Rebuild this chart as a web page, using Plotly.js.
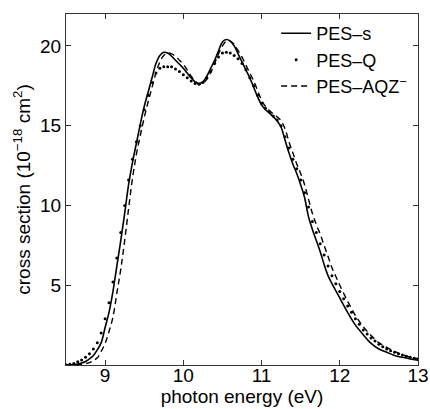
<!DOCTYPE html>
<html>
<head>
<meta charset="utf-8">
<script src="https://cdn.plot.ly/plotly-3.0.1.min.js"></script>
<style>html,body{margin:0;padding:0;background:#fff;} #chart{width:430px;height:409px;}</style>
</head>
<body>
<div id="chart"></div>
<script>
// PES-s (solid)
const sE = [8.5,8.6,8.7,8.75,8.8,8.85,8.9,8.95,9.0,9.05,9.1,9.15,9.2,9.25,9.3,9.35,9.4,9.45,9.5,9.55,9.6,9.65,9.7,9.75,9.8,9.85,9.9,9.95,10.0,10.05,10.1,10.15,10.2,10.25,10.3,10.35,10.4,10.45,10.5,10.55,10.6,10.65,10.7,10.75,10.8,10.85,10.9,10.95,11.0,11.05,11.1,11.15,11.2,11.25,11.3,11.35,11.4,11.45,11.5,11.55,11.6,11.65,11.7,11.75,11.8,11.85,11.9,11.95,12.0,12.1,12.2,12.3,12.4,12.5,12.6,12.7,12.8,12.9,13.0];
const sV = [0,0.02,0.12,0.22,0.38,0.6,0.95,1.4,2.35,3.3,4.6,6.2,7.8,9.5,11.3,12.7,13.9,15.1,16.2,17.1,18.0,18.9,19.4,19.6,19.55,19.35,19.1,18.85,18.6,18.3,18.0,17.75,17.65,17.75,18.1,18.6,19.1,19.7,20.25,20.4,20.3,20.0,19.5,19.0,18.5,18.0,17.4,16.8,16.3,16.0,15.8,15.55,15.3,14.9,14.1,13.3,12.6,12.0,11.3,10.5,9.3,8.5,7.8,7.1,6.3,5.6,5.1,4.65,4.2,3.3,2.5,1.9,1.35,1.0,0.8,0.6,0.48,0.38,0.3];

// PES-Q (dots)
const qE = [8.5,8.55,8.6,8.65,8.7,8.75,8.8,8.85,8.9,8.95,9.0,9.05,9.1,9.15,9.2,9.25,9.3,9.35,9.4,9.45,9.5,9.55,9.6,9.65,9.7,9.75,9.8,9.85,9.9,9.95,10.0,10.05,10.1,10.15,10.2,10.25,10.3,10.35,10.4,10.45,10.5,10.55,10.6,10.65,10.7,10.75,10.8,10.85,10.9,10.95,11.0,11.05,11.1,11.15,11.2,11.25,11.3,11.35,11.4,11.45,11.5,11.55,11.6,11.65,11.7,11.75,11.8,11.85,11.9,11.95,12.0,12.05,12.1,12.15,12.2,12.25,12.3,12.35,12.4,12.45,12.5,12.55,12.6,12.65,12.7,12.75,12.8,12.85,12.9,12.95,13.0];
const qV = [0.02,0.05,0.1,0.2,0.32,0.48,0.7,1.0,1.4,2.0,2.9,3.9,5.2,6.7,8.3,10.0,11.6,12.9,14.0,15.0,16.0,16.9,17.7,18.3,18.6,18.7,18.7,18.7,18.55,18.4,18.2,18.0,17.8,17.65,17.6,17.7,18.0,18.4,18.9,19.3,19.55,19.6,19.55,19.4,19.2,18.9,18.5,18.0,17.5,16.9,16.4,16.1,15.85,15.6,15.35,15.0,14.3,13.6,12.9,12.3,11.6,10.8,9.9,9.0,8.3,7.6,6.9,6.2,5.6,5.1,4.6,4.15,3.7,3.3,2.9,2.55,2.2,1.95,1.7,1.5,1.3,1.15,1.0,0.9,0.8,0.7,0.62,0.55,0.48,0.42,0.37];

// PES-AQZ- (dashed)
const aE = [8.5,8.6,8.7,8.8,8.85,8.9,8.95,9.0,9.05,9.1,9.15,9.2,9.25,9.3,9.35,9.4,9.45,9.5,9.55,9.6,9.65,9.7,9.75,9.8,9.85,9.9,9.95,10.0,10.05,10.1,10.15,10.2,10.25,10.3,10.35,10.4,10.45,10.5,10.55,10.6,10.65,10.7,10.75,10.8,10.85,10.9,10.95,11.0,11.05,11.1,11.15,11.2,11.25,11.3,11.35,11.4,11.45,11.5,11.55,11.6,11.65,11.7,11.75,11.8,11.85,11.9,11.95,12.0,12.1,12.2,12.3,12.4,12.5,12.6,12.7,12.8,12.9,13.0];
const aV = [0,0.01,0.05,0.15,0.28,0.45,0.85,1.35,2.1,3.0,4.5,6.0,7.8,9.8,11.7,13.2,14.4,15.5,16.5,17.4,18.3,19.0,19.4,19.55,19.5,19.35,19.1,18.85,18.5,18.1,17.8,17.6,17.65,17.9,18.35,18.9,19.5,20.0,20.3,20.3,20.1,19.7,19.3,18.8,18.3,17.8,17.2,16.6,16.2,15.95,15.75,15.55,15.3,14.8,14.0,13.3,12.6,12.0,11.3,10.4,9.5,8.8,8.2,7.5,6.8,6.1,5.55,5.0,4.0,3.1,2.4,1.85,1.4,1.1,0.85,0.65,0.5,0.4];

const xTicks = [9,10,11,12,13];
const yTicks = [5,10,15,20];

const fam = 'Liberation Sans, Arial, sans-serif';
const tickFont = {family: fam, color: '#000', size: 19};
const titleFont = {family: fam, color: '#000', size: 19};
const legendFont = {family: fam, color: '#000', size: 18};

const traces = [
  {x: sE, y: sV, name: 'PES–s', mode: 'lines', line: {color: '#000', width: 1.6, shape: 'spline'}},
  {x: qE, y: qV, name: 'PES–Q', mode: 'markers', marker: {color: '#000', size: 3}},
  {x: aE, y: aV, name: 'PES–AQZ<sup>−</sup>', mode: 'lines', line: {color: '#000', width: 1.4, dash: '6px,4px', shape: 'spline'}}
];

const axisCommon = {
  showgrid: false, zeroline: false, showline: true, mirror: 'ticks',
  linecolor: '#333', linewidth: 1, ticks: 'inside', ticklen: 5, tickcolor: '#333',
  tickfont: tickFont
};

const layout = {
  width: 430, height: 409,
  margin: {l: 66, r: 12, t: 14, b: 44},
  paper_bgcolor: '#fff', plot_bgcolor: '#fff',
  font: tickFont,
  showlegend: true,
  legend: {x: 0.597, y: 0.997, xanchor: 'left', yanchor: 'top', bgcolor: 'rgba(0,0,0,0)', borderwidth: 0, font: legendFont, tracegroupgap: 0},
  xaxis: Object.assign({}, axisCommon, {range: [8.5, 13], tickvals: xTicks, ticktext: xTicks.map(String),
    ticklabelstandoff: -7,
    title: {text: 'photon energy (eV)', font: titleFont, standoff: 0}}),
  yaxis: Object.assign({}, axisCommon, {range: [0, 22], tickvals: yTicks, ticktext: yTicks.map(String),
    title: {text: 'cross section (10<sup>−18</sup> cm<sup>2</sup>)', font: titleFont, standoff: 4}})
};

Plotly.newPlot('chart', traces, layout, {displayModeBar: false, staticPlot: true});
</script>
</body>
</html>
